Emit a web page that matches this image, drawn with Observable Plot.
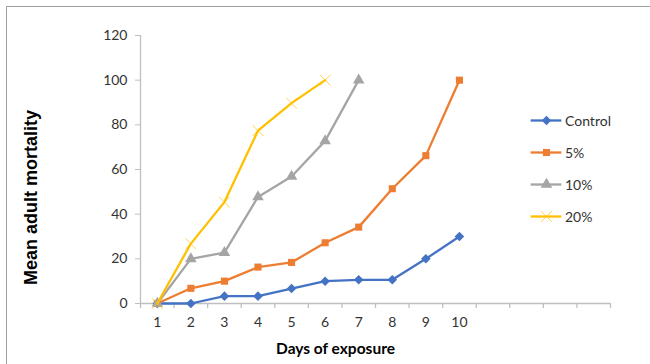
<!DOCTYPE html>
<html>
<head>
<meta charset="utf-8">
<script src="https://cdn.jsdelivr.net/npm/d3@7"></script>
<script src="https://cdn.jsdelivr.net/npm/@observablehq/plot@0.6"></script>
<style>
  body { margin: 0; background: #fff; font-family: Lato, "Open Sans", sans-serif; }
  #wrap { position: relative; width: 650px; height: 364px; overflow: hidden; }
  #frame { position: absolute; left: 6px; top: 6px; right: -2px; bottom: -2px; border-top: 1.5px solid #a0a0a0; border-left: 1.5px solid #a0a0a0; }
  #chart { position: absolute; left: 0; top: 0; }
  #legend { position: absolute; left: 530px; top: 104px; font-size: 14px; color: #333; }
  .item { display: flex; align-items: center; height: 32px; }
  .item span { margin-left: 3px; }
</style>
</head>
<body>
<div id="wrap">
  <div id="frame"></div>
  <div id="chart"></div>
  <div id="legend"></div>
</div>
<script>
const days = [1, 2, 3, 4, 5, 6, 7, 8, 9, 10];
const slots = 14;
const series = ["Control", "5%", "10%", "20%"];
const colors = ["#4472C4", "#ED7D31", "#A5A5A5", "#FFC000"];
const symbols = ["diamond2", "square", "triangle", "times"];
const control = [0, 0, 3.3, 3.3, 6.7, 10, 10.6, 10.6, 20, 30];
const pct5 = [0, 6.8, 10, 16.3, 18.4, 27.2, 34.2, 51.4, 66.2, 100];
const pct10 = [0, 20, 22.8, 47.7, 56.9, 72.8, 100];
const pct20 = [0, 26.8, 45.4, 77.4, 89.7, 100];
const yTicks = [0, 20, 40, 60, 80, 100, 120];

const values = [control, pct5, pct10, pct20];
const rows = [];
values.forEach((arr, si) => arr.forEach((v, i) => rows.push({ day: days[i], value: v, series: series[si] })));

const boundaries = d3.range(0.5, slots + 1, 1);
const axisColor = "#BFBFBF";
const textColor = "#333";

const marks = [
  Plot.ruleY([0], { x1: 0.5, x2: slots + 0.5, stroke: axisColor, strokeWidth: 1.3 }),
  Plot.ruleX([0.5], { y1: 0, y2: 120, stroke: axisColor, strokeWidth: 1.3 }),
  Plot.axisX({ ticks: boundaries, tickSize: 5, stroke: axisColor, strokeWidth: 1.3, tickFormat: () => "", label: null }),
  Plot.axisY({ ticks: yTicks, tickSize: 5, tickPadding: 8, stroke: axisColor, color: textColor, fontSize: 14, tickFormat: d => String(d), label: null }),
  Plot.axisX({ ticks: days, tickSize: 0, tickPadding: 14, color: textColor, fontSize: 14, tickFormat: d => String(d), label: null }),
  Plot.text(["Mean adult mortality"], { frameAnchor: "left", textAnchor: "middle", dx: -109, dy: 28, rotate: -90, fontSize: 18, fontWeight: "bold", fontFamily: "'Liberation Sans', Arial, sans-serif", fill: "#000" }),
  Plot.text(["Days of exposure"], { frameAnchor: "bottom", dy: 50, dx: -40, fontSize: 15.5, fontWeight: "bold", fill: "#000" })
];

series.forEach((s, si) => {
  const data = rows.filter(r => r.series === s);
  marks.push(Plot.line(data, { x: "day", y: "value", stroke: colors[si], strokeWidth: 2.3 }));
  if (symbols[si] === "times") {
    marks.push(Plot.dot(data, { x: "day", y: "value", symbol: "times", r: 5, stroke: colors[si], strokeWidth: 1, strokeOpacity: 0.7 }));
  } else {
    marks.push(Plot.dot(data, { x: "day", y: "value", symbol: symbols[si], r: symbols[si] === "square" ? 4 : 4.3, fill: colors[si], stroke: "none" }));
  }
});

const chart = Plot.plot({
  width: 650,
  height: 364,
  marginLeft: 140,
  marginRight: 40,
  marginTop: 35,
  marginBottom: 61,
  x: { type: "linear", domain: [0.5, slots + 0.5], axis: null },
  y: { type: "linear", domain: [0, 120], axis: null },
  style: { fontFamily: "Lato, 'Open Sans', sans-serif", background: "transparent", overflow: "visible" },
  marks
});
document.getElementById("chart").appendChild(chart);

// legend
const legend = document.getElementById("legend");
series.forEach((s, si) => {
  const item = document.createElement("div");
  item.className = "item";
  const svg = Plot.plot({
    width: 32, height: 16, margin: 0,
    x: { domain: [0, 1], axis: null }, y: { domain: [0, 1], axis: null },
    style: { background: "transparent", overflow: "visible" },
    marks: [
      Plot.ruleY([0.5], { x1: 0.02, x2: 0.98, stroke: colors[si], strokeWidth: 2.3 }),
      symbols[si] === "times"
        ? Plot.dot([[0.5, 0.5]], { symbol: "times", r: 5, stroke: colors[si], strokeWidth: 1, strokeOpacity: 0.7 })
        : Plot.dot([[0.5, 0.5]], { symbol: symbols[si], r: symbols[si] === "square" ? 4 : 4.3, fill: colors[si] })
    ]
  });
  item.appendChild(svg);
  const label = document.createElement("span");
  label.textContent = s;
  item.appendChild(label);
  legend.appendChild(item);
});
</script>
</body>
</html>
